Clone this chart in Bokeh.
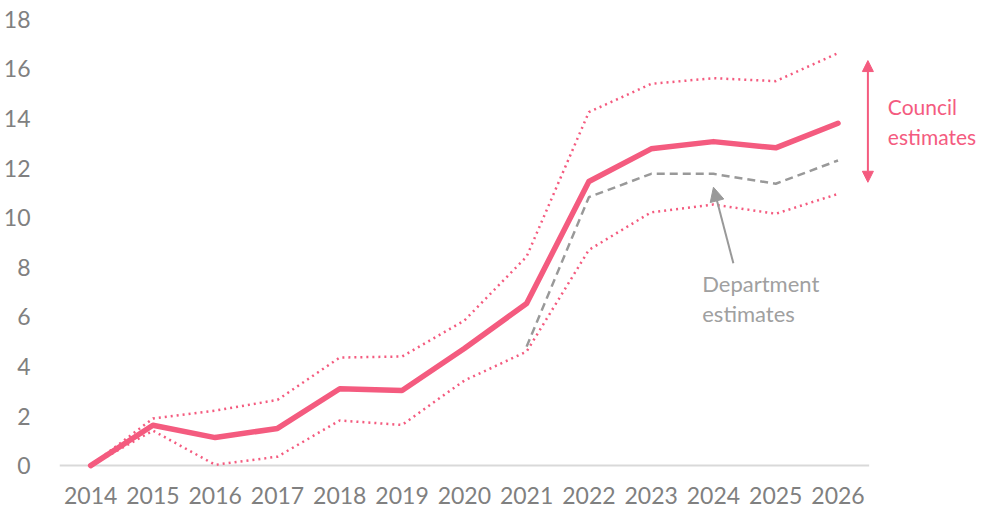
from bokeh.plotting import figure
from bokeh.models import FixedTicker, Range1d, Arrow, NormalHead
from bokeh.core.properties import value
from bokeh.embed import file_html
from bokeh.resources import INLINE

years = list(range(2014, 2027))
year_labels = [str(y) for y in years]
council_central = [0, 1.63, 1.13, 1.5, 3.1, 3.03, 4.72, 6.54, 11.46, 12.78, 13.07, 12.82, 13.81]
council_upper = [0, 1.9, 2.22, 2.65, 4.36, 4.4, 5.85, 8.43, 14.26, 15.4, 15.63, 15.51, 16.64]
council_lower = [0, 1.41, 0.03, 0.36, 1.82, 1.64, 3.43, 4.6, 8.7, 10.22, 10.53, 10.16, 10.96]
dept_years = [2021, 2022, 2023, 2024, 2025, 2026]
dept_estimates = [4.8, 10.83, 11.77, 11.77, 11.37, 12.31]
y_ticks = [0, 2, 4, 6, 8, 10, 12, 14, 16, 18]

PINK = "#F45B7F"
GRAY = "#999999"
TEXT_GRAY = "#A0A0A0"
LABEL = "#808080"
FONT = "Lato"

p = figure(width=982, height=511, output_backend="svg", toolbar_location=None,
           x_range=Range1d(2013.5, 2028.32), y_range=Range1d(-0.4, 18.36),
           min_border_left=58, min_border_right=0, min_border_top=10, min_border_bottom=36)
p.outline_line_color = None
p.xgrid.visible = False
p.ygrid.visible = False
p.background_fill_color = "white"
p.border_fill_color = "white"

# axes
p.xaxis.ticker = FixedTicker(ticks=years)
p.xaxis.major_label_overrides = {y: l for y, l in zip(years, year_labels)}
p.yaxis.ticker = FixedTicker(ticks=y_ticks)
for ax in (p.xaxis, p.yaxis):
    ax.axis_line_color = None
    ax.major_tick_line_color = None
    ax.minor_tick_line_color = None
    ax.major_label_text_font = FONT
    ax.major_label_text_font_size = "23px"
    ax.major_label_text_color = LABEL
p.yaxis.major_label_standoff = 23
p.xaxis.major_label_standoff = 5

# baseline
p.segment(x0=[years[0] - 0.5], y0=[0], x1=[years[-1] + 0.5], y1=[0],
          line_color="#D9D9D9", line_width=2)

# lines
p.line(years, council_upper, line_color=PINK, line_width=2.5, line_dash="2 4")
p.line(years, council_lower, line_color=PINK, line_width=2.5, line_dash="2 4")
p.line(dept_years, dept_estimates, line_color=GRAY, line_width=2.5, line_dash="8 5")
p.line(years, council_central, line_color=PINK, line_width=5.5,
       line_cap="round", line_join="round")

# Council range arrow
p.add_layout(Arrow(start=NormalHead(size=11, fill_color=PINK, line_color=PINK),
                   end=NormalHead(size=11, fill_color=PINK, line_color=PINK),
                   x_start=2026.48, y_start=11.43, x_end=2026.48, y_end=16.34,
                   line_color=PINK, line_width=2))
p.text(x=[2026.8, 2026.8], y=[14.49, 13.28], text=["Council", "estimates"],
       text_font=value(FONT), text_font_size="21px", text_color=PINK,
       text_align="left", text_baseline="middle")

# Department arrow
p.add_layout(Arrow(end=NormalHead(size=14, fill_color=GRAY, line_color=GRAY),
                   x_start=2024.32, y_start=8.16, x_end=2024.0, y_end=11.23,
                   line_color=GRAY, line_width=2))
p.text(x=[2023.82, 2023.82], y=[7.34, 6.13], text=["Department", "estimates"],
       text_font=value(FONT), text_font_size="22px", text_color=TEXT_GRAY,
       text_align="left", text_baseline="middle")

open("out.html", "w").write(file_html(p, INLINE))
